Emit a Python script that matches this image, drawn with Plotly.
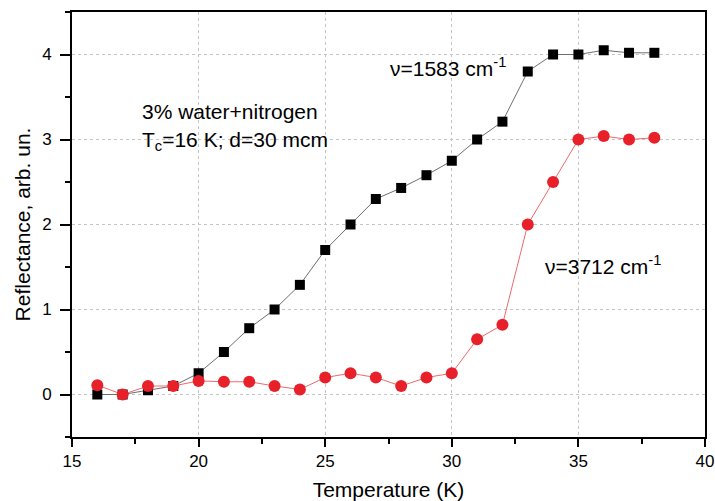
import plotly.graph_objects as go

temperature = list(range(16, 39))
refl_1583 = [0.0, 0.0, 0.05, 0.1, 0.25, 0.5, 0.78, 1.0, 1.29, 1.7, 2.0, 2.3, 2.43, 2.58,
             2.75, 3.0, 3.21, 3.8, 4.0, 4.0, 4.05, 4.02, 4.02]
refl_3712 = [0.11, 0.0, 0.1, 0.1, 0.16, 0.15, 0.15, 0.1, 0.06, 0.2, 0.25, 0.2, 0.1, 0.2,
             0.25, 0.65, 0.82, 2.0, 2.5, 3.0, 3.04, 3.0, 3.02]
x_ticks = [15, 20, 25, 30, 35, 40]
y_ticks = [0, 1, 2, 3, 4]

FONT = "Liberation Sans, Arial, sans-serif"

fig = go.Figure()
fig.add_trace(go.Scatter(
    x=temperature, y=refl_1583, mode="lines+markers",
    line=dict(color="#6e6e6e", width=1),
    marker=dict(symbol="square", size=10, color="black"),
    showlegend=False))
fig.add_trace(go.Scatter(
    x=temperature, y=refl_3712, mode="lines+markers",
    line=dict(color="#ee6a6a", width=1),
    marker=dict(symbol="circle", size=12, color="#e8202a"),
    showlegend=False))

ann_font = dict(size=21, color="black", family=FONT)
fig.add_annotation(x=27.48, y=3.85, xref="x", yref="y", text="ν=1583 cm<sup>-1</sup>",
                   showarrow=False, xanchor="left", yanchor="middle", font=ann_font)
fig.add_annotation(x=17.69, y=3.33, xref="x", yref="y", text="3% water+nitrogen",
                   showarrow=False, xanchor="left", yanchor="middle", font=ann_font)
fig.add_annotation(x=17.69, y=2.98, xref="x", yref="y", text="T<sub>c</sub>=16 K; d=30 mcm",
                   showarrow=False, xanchor="left", yanchor="middle", font=ann_font)
fig.add_annotation(x=33.6, y=1.52, xref="x", yref="y", text="ν=3712 cm<sup>-1</sup>",
                   showarrow=False, xanchor="left", yanchor="middle", font=ann_font)

axis_common = dict(
    showline=True, linecolor="black", linewidth=1.6, mirror=True,
    ticks="outside", tickcolor="black", tickwidth=1.5,
    showgrid=True, gridcolor="#c4c4c4", griddash="dot", gridwidth=1,
    zeroline=False, tickfont=dict(size=17, color="black", family=FONT),
    automargin=False, ticklabeloverflow="allow",
)

fig.update_xaxes(range=[15, 40], tickvals=x_ticks, ticklen=8,
                 minor=dict(tickvals=[17.5, 22.5, 27.5, 32.5, 37.5], ticks="outside",
                            ticklen=5, tickcolor="black", showgrid=False),
                 title=dict(text="Temperature (K)", font=dict(size=21, color="black", family=FONT), standoff=14),
                 **axis_common)
fig.update_yaxes(range=[-0.5, 4.5], tickvals=y_ticks, ticklen=10, ticklabelstandoff=5,
                 minor=dict(tickvals=[-0.5, 0.5, 1.5, 2.5, 3.5, 4.5], ticks="outside",
                            ticklen=5, tickcolor="black", showgrid=False),
                 title=dict(text="Reflectance, arb. un.", font=dict(size=21, color="black", family=FONT), standoff=6),
                 **axis_common)

fig.update_layout(width=715, height=501, plot_bgcolor="white", paper_bgcolor="white",
                  margin=dict(l=72, r=10, t=12, b=64), font=dict(family=FONT))

fig.write_html("out.html", config={"displayModeBar": False},
               post_script="document.body.style.margin='0';document.body.style.overflow='hidden';")
